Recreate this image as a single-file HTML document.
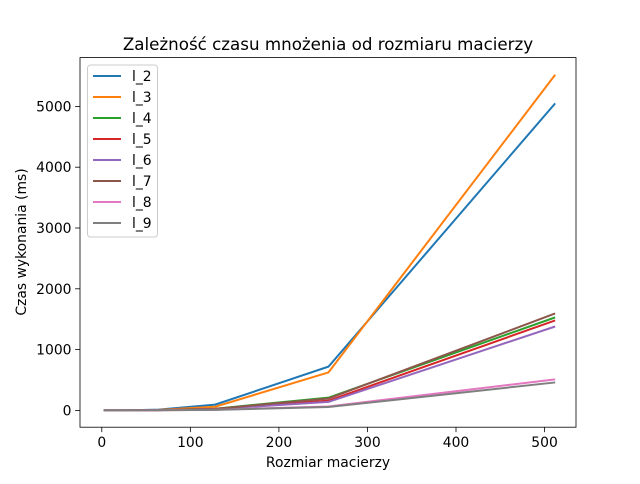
<!DOCTYPE html>
<html><head><meta charset="utf-8"><style>
body{margin:0;background:#fff;font-family:"DejaVu Sans","Liberation Sans",sans-serif;}
</style></head><body>
<svg id="chart" width="640" height="480" xmlns="http://www.w3.org/2000/svg" font-family="DejaVu Sans, Liberation Sans, sans-serif">
<rect width="640" height="480" fill="#fff"/>
<g id="plot"></g>
</svg>
<script>
const sizes=[2,4,8,16,32,64,128,256,512];
const seriesNames=["l_2","l_3","l_4","l_5","l_6","l_7","l_8","l_9"];
const l2=[0,0,0,0.5,2,12,95,720,5050];
const l3=[0,0,0,0.5,1.5,8,60,625,5520];
const l4=[0,0,0,0,1,4,28,210,1530];
const l5=[0,0,0,0,1,4,24,160,1480];
const l6=[0,0,0,0,1,4,22,140,1380];
const l7=[0,0,0,0,1,4,26,195,1595];
const l8=[0,0,0,0,0.5,2,10,65,510];
const l9=[0,0,0,0,0.5,2,9,55,460];
const xTicks=[0,100,200,300,400,500];
const yTicks=[0,1000,2000,3000,4000,5000];
const colors=["#1f77b4","#ff7f0e","#2ca02c","#d62728","#9467bd","#8c564b","#e377c2","#7f7f7f"];
const allSeries=[l2,l3,l4,l5,l6,l7,l8,l9];
const L=80,R=576,T=57.6,B=427.2;
const xs=v=>101.8+v*0.8855;
const ys=v=>410.4-v*(410.4-106.4)/5000;
const NS="http://www.w3.org/2000/svg";
const g=document.getElementById('plot');
function mk(t,a,p){const e=document.createElementNS(NS,t);for(const k in a)e.setAttribute(k,a[k]);(p||g).appendChild(e);return e;}
xTicks.forEach(v=>{const x=xs(v);
const t=mk('line',{x1:x,x2:x,y1:B,y2:B+4.9,stroke:'#000','stroke-width':0.8});


const l=mk('text',{x:x,y:B+20,'font-size':13.9,'text-anchor':'middle'});l.textContent=v;

});
yTicks.forEach(v=>{const y=ys(v);
const t=mk('line',{x1:L-4.9,x2:L,y1:y,y2:y,stroke:'#000','stroke-width':0.8});


const l=mk('text',{x:L-8.5,y:y+5,'font-size':13.9,'text-anchor':'end'});l.textContent=v;

});
allSeries.forEach((s,i)=>{
const p=mk('polyline',{points:s.map((v,j)=>xs(sizes[j])+','+ys(v)).join(' '),fill:'none',stroke:colors[i],'stroke-width':2});

});
const fr=mk('rect',{x:L,y:T,width:R-L,height:B-T,fill:'none',stroke:'#000','stroke-width':0.8});


const ti=mk('text',{x:328,y:50,'font-size':16.7,'text-anchor':'middle'});ti.textContent='Zależność czasu mnożenia od rozmiaru macierzy';


const xt=mk('text',{x:328,y:467,'font-size':13.9,'text-anchor':'middle'});xt.textContent='Rozmiar macierzy';


const yt=mk('text',{x:0,y:0,'font-size':13.9,'text-anchor':'middle',transform:'translate(26,242) rotate(-90)'});yt.textContent='Czas wykonania (ms)';


const lg=mk('g',{});


mk('rect',{x:87.5,y:65,width:70,height:172,rx:3,fill:'#fff','fill-opacity':0.8,stroke:'#ccc','stroke-width':1},lg);
seriesNames.forEach((n,i)=>{const y=76+i*21;
const e=mk('g',{},lg);


mk('line',{x1:93,x2:121,y1:y,y2:y,stroke:colors[i],'stroke-width':2},e);
const t=mk('text',{x:132,y:y+5,'font-size':13.9},e);t.textContent=n;});
</script>
</body></html>
